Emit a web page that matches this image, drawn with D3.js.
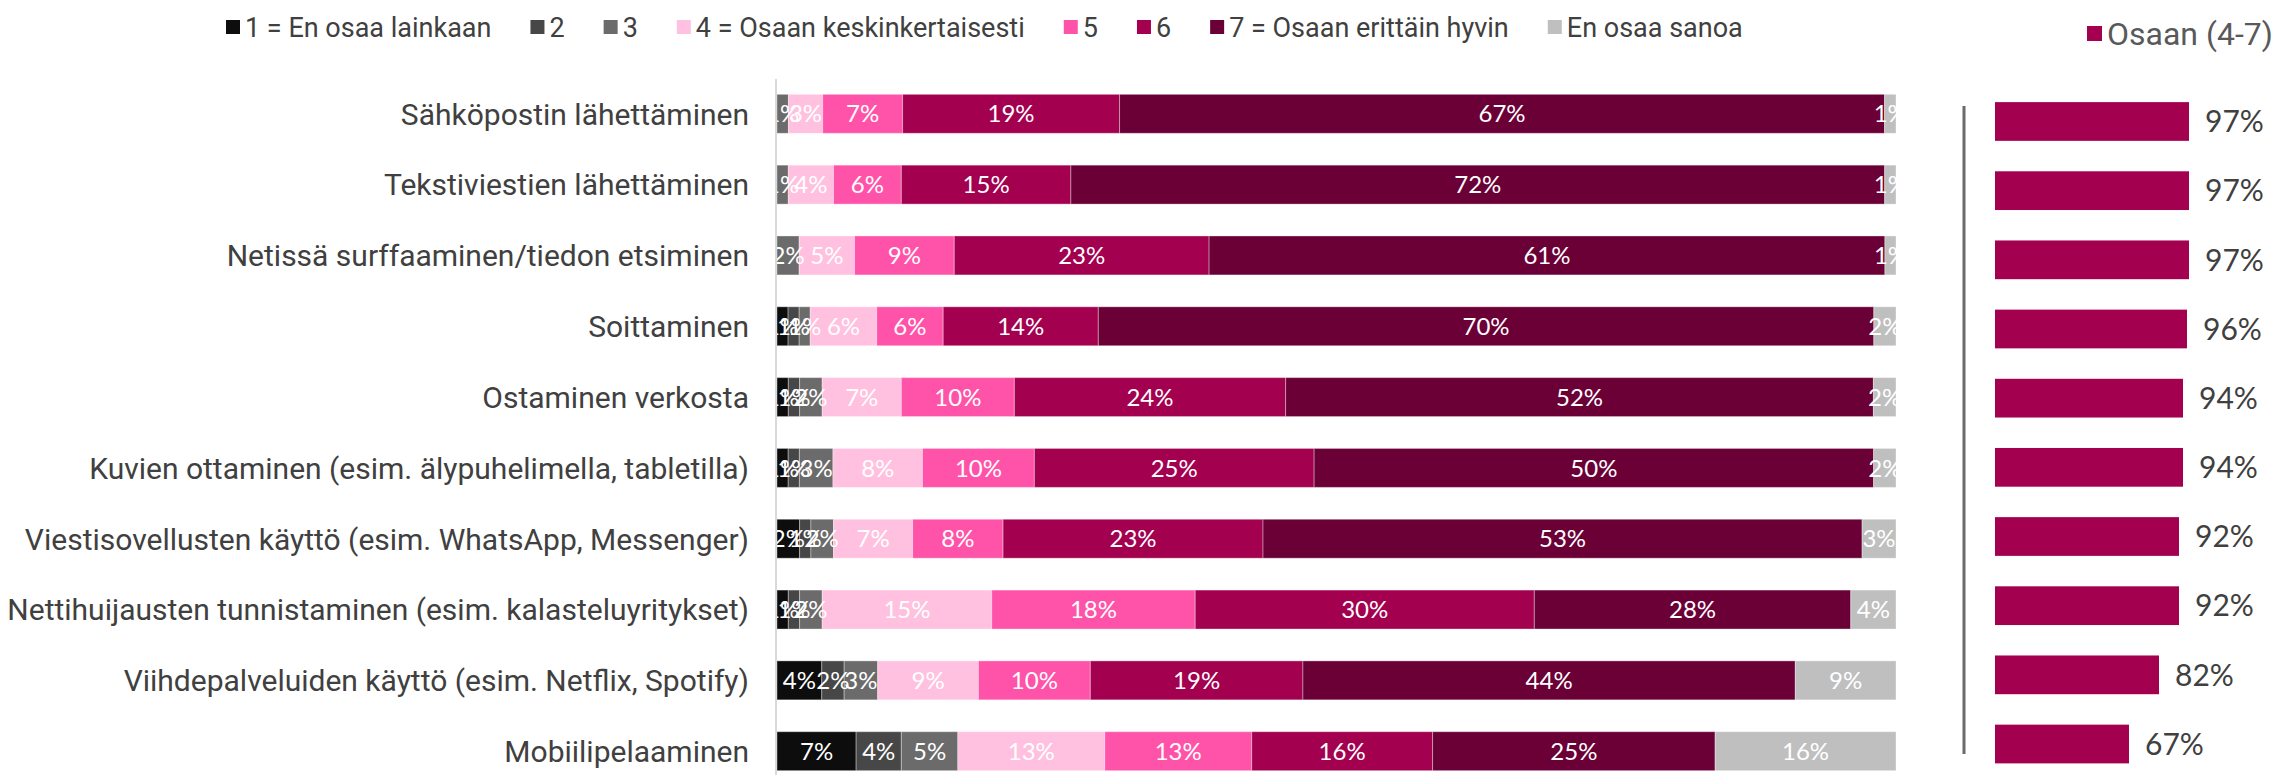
<html>
<head>
<meta charset="utf-8">
<script src="https://cdn.jsdelivr.net/npm/d3@7"></script>
<style>
	body { margin: 0; background: #fff; }
	svg { display: block; }
</style>
</head>
<body>
<svg id="chart" width="2282" height="775"></svg>
<script>
// categories (top to bottom)
var categories = [
	"Sähköpostin lähettäminen",
	"Tekstiviestien lähettäminen",
	"Netissä surffaaminen/tiedon etsiminen",
	"Soittaminen",
	"Ostaminen verkosta",
	"Kuvien ottaminen (esim. älypuhelimella, tabletilla)",
	"Viestisovellusten käyttö (esim. WhatsApp, Messenger)",
	"Nettihuijausten tunnistaminen (esim. kalasteluyritykset)",
	"Viihdepalveluiden käyttö (esim. Netflix, Spotify)",
	"Mobiilipelaaminen"
];

var seriesNames = ["1 = En osaa lainkaan", "2", "3", "4 = Osaan keskinkertaisesti", "5", "6", "7 = Osaan erittäin hyvin", "En osaa sanoa"];
var seriesColors = ["#0d0d0d", "#474747", "#6b6b6b", "#ffc1df", "#ff53a9", "#a3004f", "#6b0037", "#bfbfbf"];

// % per answer, one array per series
var s1  = [0, 0, 0, 1, 1, 1, 2, 1, 4, 7];
var s2  = [0, 0, 0, 1, 1, 1, 1, 1, 2, 4];
var s3  = [1, 1, 2, 1, 2, 3, 2, 2, 3, 5];
var s4  = [3, 4, 5, 6, 7, 8, 7, 15, 9, 13];
var s5  = [7, 6, 9, 6, 10, 10, 8, 18, 10, 13];
var s6  = [19, 15, 23, 14, 24, 25, 23, 30, 19, 16];
var s7  = [67, 72, 61, 70, 52, 50, 53, 28, 44, 25];
var eos = [1, 1, 1, 2, 2, 2, 3, 4, 9, 16];

// Osaan (4-7)
var osaanLabel = "Osaan (4-7)";
var osaan = [97, 97, 97, 96, 94, 94, 92, 92, 82, 67];

var seriesValues = [s1, s2, s3, s4, s5, s6, s7, eos];

var rows = categories.map(function(c, i){
	var r = {cat: c};
	seriesNames.forEach(function(s, j){ r[s] = seriesValues[j][i]; });
	return r;
});

var svg = d3.select("#chart");

// ---- main stacked bars
var x = d3.scaleLinear().domain([0, 1]).range([777, 1896]);
var y = d3.scaleBand().domain(categories).range([78.4, 786.6]).paddingInner(0.45).paddingOuter(0.225);

var stack = d3.stack().keys(seriesNames).offset(d3.stackOffsetExpand);
var layers = stack(rows);

svg.append("clipPath").attr("id", "plotclip")
	.append("rect").attr("x", x(0)).attr("y", 60).attr("width", x(1) - x(0)).attr("height", 715);

var plot = svg.append("g").attr("clip-path", "url(#plotclip)");

var layerG = plot.selectAll(".layer").data(layers).enter().append("g")
	.attr("class", "layer")
	.attr("fill", function(d, i){ return seriesColors[i]; });

layerG.selectAll("rect").data(function(d){ return d; }).enter().append("rect")
	.attr("x", function(d){ return x(d[0]); })
	.attr("y", function(d){ return y(d.data.cat); })
	.attr("width", function(d){ return x(d[1]) - x(d[0]); })
	.attr("height", y.bandwidth())
	.style("stroke", "#ffffff")
	.style("stroke-opacity", 0.35)
	.style("stroke-width", 1);

// segment labels
layers.forEach(function(layer, j){
	plot.selectAll(".lbl" + j).data(layer.filter(function(d){ return d.data[layer.key] > 0; }))
		.enter().append("text")
		.attr("class", "lbl" + j)
		.attr("x", function(d){ return (x(d[0]) + x(d[1])) / 2; })
		.attr("y", function(d){ return y(d.data.cat) + y.bandwidth() / 2; })
		.attr("dy", "0.36em")
		.attr("text-anchor", "middle")
		.style("font-family", "Lato, sans-serif")
		.style("font-size", "24px")
		.style("fill", "#ffffff")
		.text(function(d){ return d.data[layer.key] + "%"; });
});

// left axis line
svg.append("line")
	.attr("x1", 776).attr("x2", 776).attr("y1", 79).attr("y2", 775)
	.style("stroke", "#d9d9d9").style("stroke-width", 2);

// category labels
svg.selectAll(".cat").data(categories).enter().append("text")
	.attr("class", "cat")
	.attr("x", 749)
	.attr("y", function(d){ return y(d) + y.bandwidth() / 2; })
	.attr("dy", "0.36em")
	.attr("text-anchor", "end")
	.style("font-family", "Roboto, sans-serif")
	.style("font-size", "30px")
	.style("fill", "#404040")
	.text(function(d){ return d; });

// ---- legend
var legend = svg.append("g").attr("class", "legend");
var lx = 226;
seriesNames.forEach(function(s, i){
	legend.append("rect").attr("x", lx).attr("y", 20).attr("width", 14).attr("height", 14).attr("fill", seriesColors[i]);
	var t = legend.append("text")
		.attr("x", lx + 19).attr("y", 27).attr("dy", "0.36em")
		.style("font-family", "Roboto, sans-serif")
		.style("font-size", "27px")
		.style("fill", "#404040")
		.text(s);
	lx += 19 + t.node().getComputedTextLength() + 39;
});

// ---- right panel: Osaan (4-7)
var x2 = d3.scaleLinear().domain([0, 100]).range([1995, 2195]);
var y2 = d3.scaleBand().domain(categories).range([86.9, 778.6]).paddingInner(0.44).paddingOuter(0.22);

svg.append("line")
	.attr("x1", 1964).attr("x2", 1964).attr("y1", 106).attr("y2", 754)
	.style("stroke", "#6b6b6b").style("stroke-width", 3);

svg.selectAll(".obar").data(osaan).enter().append("rect")
	.attr("class", "obar")
	.attr("x", x2(0))
	.attr("y", function(d, i){ return y2(categories[i]); })
	.attr("width", function(d){ return x2(d) - x2(0); })
	.attr("height", y2.bandwidth())
	.attr("fill", "#a3004f");

svg.selectAll(".olbl").data(osaan).enter().append("text")
	.attr("class", "olbl")
	.attr("x", function(d){ return x2(d) + 16; })
	.attr("y", function(d, i){ return y2(categories[i]) + y2.bandwidth() / 2; })
	.attr("dy", "0.36em")
	.style("font-family", "Lato, sans-serif")
	.style("font-size", "30px")
	.style("fill", "#404040")
	.text(function(d){ return d + "%"; });

svg.append("rect").attr("x", 2087).attr("y", 26).attr("width", 15).attr("height", 15).attr("fill", "#a3004f");
svg.append("text")
	.attr("x", 2107).attr("y", 33).attr("dy", "0.36em")
	.style("font-family", "Roboto, sans-serif")
	.style("font-size", "32px")
	.style("fill", "#595959")
	.text(osaanLabel);
</script>
</body>
</html>
